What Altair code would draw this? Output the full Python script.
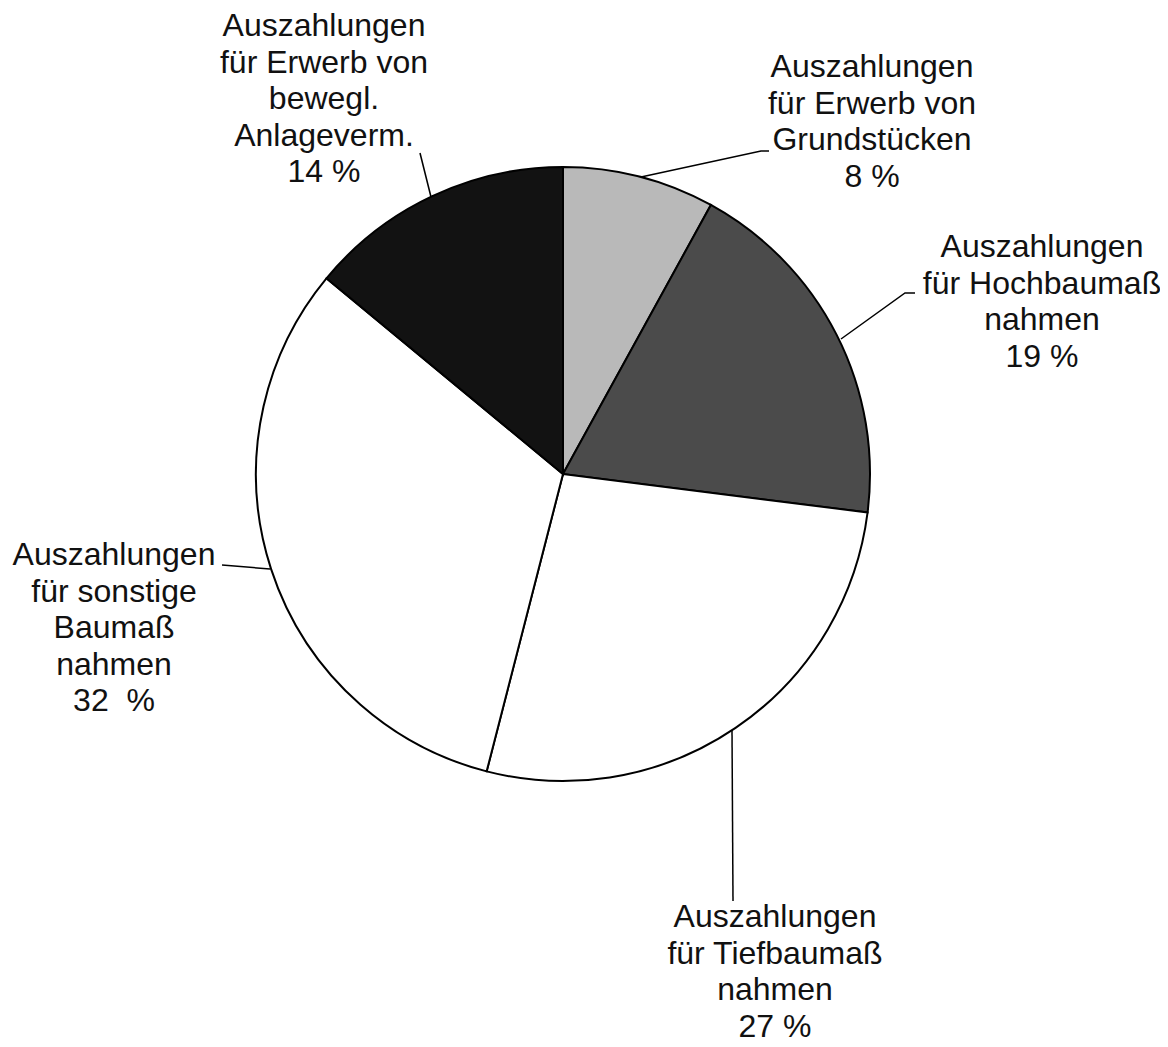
import altair as alt
import pandas as pd

# ---- data ----
categories = [
    "Auszahlungen\nfür Erwerb von\nGrundstücken",
    "Auszahlungen\nfür Hochbaumaß\nnahmen",
    "Auszahlungen\nfür Tiefbaumaß\nnahmen",
    "Auszahlungen\nfür sonstige\nBaumaß\nnahmen",
    "Auszahlungen\nfür Erwerb von\nbewegl.\nAnlageverm.",
]
shares = [8, 19, 27, 32, 14]
pct_text = ["8 %", "19 %", "27 %", "32\u00a0 %", "14 %"]
fills = ["#b9b9b9", "#4b4b4b", "#ffffff", "#ffffff", "#121212"]

# ---- layout (pie-centred coordinates, unit = pie radius) ----
W, H = 1152, 1039
R = 307.0
CX, CY = 555.0, 466.0
# label anchors (first-line baseline), page px converted below
label_px = [(872, 77), (1042, 257), (775, 927), (114, 565), (324, 36)]
# leader lines (page px)
leader_px = [
    [(641, 177), (761, 151), (769, 151)],
    [(841, 339), (905, 293), (915, 293)],
    [(732, 730), (733, 901)],
    [(270, 569), (222, 565)],
    [(431, 197), (420, 153)],
]


def to_unit(px, py):
    return ((px - 8 - CX) / R, (CY - (py - 8)) / R)


x_dom = [(0 - CX) / R, (W - CX) / R]
y_dom = [(CY - H) / R, CY / R]

pie_df = pd.DataFrame({
    "cat": categories,
    "share": shares,
    "order": list(range(len(shares))),
    "fill": fills,
})

lab_rows = []
for i, (c, p) in enumerate(zip(categories, pct_text)):
    ux, uy = to_unit(*label_px[i])
    lab_rows.append({"text": c + "\n" + p, "x": ux, "y": uy})
lab_df = pd.DataFrame(lab_rows)

line_rows = []
for i, pts in enumerate(leader_px):
    for j, (px, py) in enumerate(pts):
        ux, uy = to_unit(px, py)
        line_rows.append({"g": i, "k": j, "x": ux, "y": uy})
line_df = pd.DataFrame(line_rows)

xs = alt.Scale(domain=x_dom, nice=False, zero=False)
ys = alt.Scale(domain=y_dom, nice=False, zero=False)

pie = alt.Chart(pie_df).mark_arc(radius=R, stroke="#000000", strokeWidth=2).encode(
    theta=alt.Theta("share:Q", stack=True),
    order=alt.Order("order:Q"),
    fill=alt.Fill("fill:N", scale=None),
    x=alt.X(datum=0, scale=xs, axis=None),
    y=alt.Y(datum=0, scale=ys, axis=None),
)

lines = alt.Chart(line_df).mark_line(color="#000000", strokeWidth=1.5).encode(
    x=alt.X("x:Q", scale=xs, axis=None),
    y=alt.Y("y:Q", scale=ys, axis=None),
    detail="g:N",
    order="k:Q",
)

labels = alt.Chart(lab_df).mark_text(
    font="Liberation Sans", fontSize=32, lineHeight=36.5, align="center",
    baseline="alphabetic", lineBreak="\n", color="#111111",
).encode(
    x=alt.X("x:Q", scale=xs, axis=None),
    y=alt.Y("y:Q", scale=ys, axis=None),
    text="text:N",
)

chart = alt.layer(pie, lines, labels).properties(
    width=W, height=H, padding=0, autosize=alt.AutoSizeParams(type="none"),
    background="#ffffff",
).configure_view(stroke=None)

chart.save("out.html", embed_options={"renderer": "svg", "actions": False})
